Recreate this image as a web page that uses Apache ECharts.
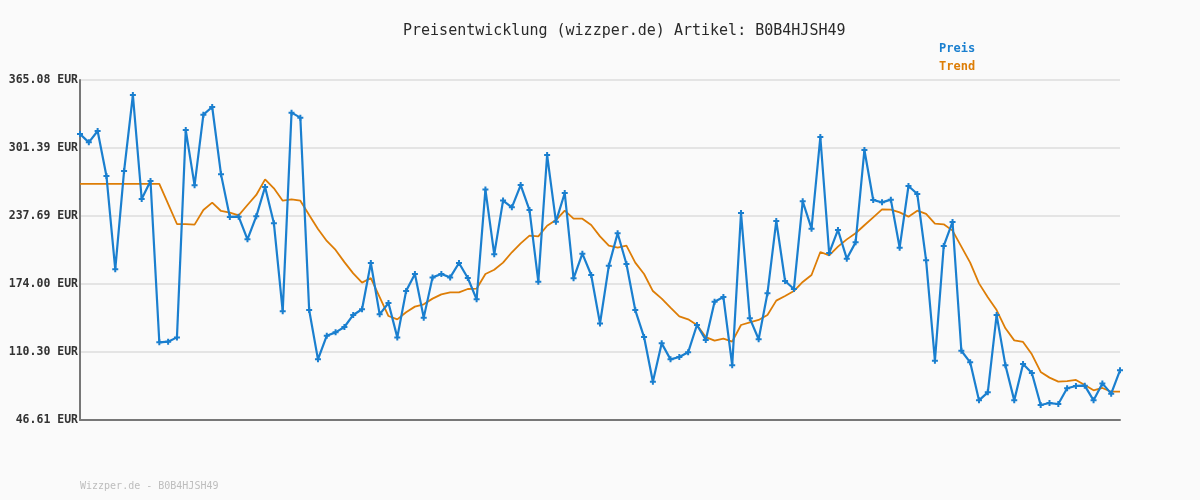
<!DOCTYPE html>
<html>
<head>
<meta charset="utf-8">
<script src="https://cdn.jsdelivr.net/npm/echarts@6/dist/echarts.min.js"></script>
<style>
html,body{margin:0;padding:0;background:#fafafa;}
#chart{width:1200px;height:500px;}
</style>
</head>
<body>
<div id="chart"></div>
<script>
const titleText = 'Preisentwicklung (wizzper.de) Artikel: B0B4HJSH49';
const footerText = 'Wizzper.de - B0B4HJSH49';
const yTickLabels = ['46.61 EUR','110.30 EUR','174.00 EUR','237.69 EUR','301.39 EUR','365.08 EUR'];
const yMin = 46.61;
const yMax = 365.08;

const preis = [314.5,306.7,317.3,275.2,187.7,279.8,351.0,253.6,270.5,119.4,120.0,124.0,318.2,266.4,332.6,339.8,276.7,236.8,237.1,215.8,237.4,264.9,230.8,148.4,334.5,329.8,149.6,103.4,125.6,128.7,133.7,
145.0,150.3,193.7,145.6,156.2,124.0,167.4,183.4,142.5,180.2,183.4,180.2,193.7,179.6,159.6,262.4,201.8,252.1,245.8,266.7,243.3,176.2,294.8,232.4,259.2,179.3,202.4,182.4,137.0,191.0,
221.5,192.7,149.6,124.3,82.5,118.4,103.4,105.6,110.0,135.6,121.5,157.4,161.8,97.8,240.5,141.8,122.2,165.3,233.0,176.8,169.3,251.4,225.8,311.7,203.0,224.6,197.7,213.0,299.5,
252.7,250.5,253.0,208.0,265.8,258.3,196.2,102.2,209.6,232.1,111.5,100.6,65.0,72.5,144.9,97.8,65.0,99.1,90.6,60.7,62.5,61.6,76.3,78.5,78.8,65.0,80.9,71.3,93.1];

const trend = [267.7,267.7,267.7,267.7,267.7,267.7,267.7,267.7,267.7,267.7,249.0,230.2,230.0,229.6,243.3,250.2,242.4,240.8,238.3,248.0,257.4,272.0,263.6,252.0,253.3,252.0,238.6,225.5,214.3,205.9,194.5,
184.0,175.3,179.6,161.8,144.0,140.9,147.5,152.8,155.0,160.3,164.3,166.2,166.2,169.3,169.6,183.4,187.4,194.0,203.7,212.1,219.3,218.6,228.6,233.9,242.7,235.2,235.2,229.3,218.6,209.9,
208.0,209.9,194.0,183.4,167.4,160.3,151.8,143.7,140.9,135.6,124.3,120.9,122.8,120.0,135.6,138.1,140.3,145.0,158.4,162.7,167.4,175.9,182.4,204.0,200.8,209.0,215.8,221.5,229.0,
236.4,243.9,243.6,241.1,237.1,242.7,239.6,230.5,229.9,224.0,209.0,194.0,174.6,161.5,149.6,132.5,121.2,119.7,108.1,91.6,86.3,82.5,83.1,84.1,79.4,74.4,76.6,73.1,73.1];

const categories = preis.map((_, i) => String(i + 1));

const MONO = '"DejaVu Sans Mono", "Liberation Mono", monospace';
const chart = echarts.init(document.getElementById('chart'), null, {renderer: 'canvas'});
chart.setOption({
  backgroundColor: '#fafafa',
  animation: false,
  title: {
    text: titleText,
    left: 398, top: 19,
    textStyle: {fontFamily: MONO, fontSize: 15, fontWeight: 'normal', color: '#2a2a2a'}
  },
  legend: {
    orient: 'vertical',
    left: 934, top: 38,
    itemGap: 6,
    itemWidth: 0, itemHeight: 0,
    icon: 'none',
    textStyle: {fontFamily: MONO, fontSize: 12, fontWeight: 'bold', padding: [0,0,0,-5]},
    data: [
      {name: 'Preis', textStyle: {color: '#1a7fcf'}},
      {name: 'Trend', textStyle: {color: '#dd7d06'}}
    ],
    selectedMode: false
  },
  graphic: [{
    type: 'text', left: 80, top: 481,
    style: {text: footerText, fontFamily: MONO, fontSize: 10, fill: '#bdbdbd'}
  }],
  grid: {left: 80, right: 80, top: 80, bottom: 80, containLabel: false},
  xAxis: {
    type: 'category',
    data: categories,
    boundaryGap: false,
    axisLine: {show: true, lineStyle: {color: '#777', width: 2}},
    axisTick: {show: false},
    axisLabel: {show: false},
    splitLine: {show: false}
  },
  yAxis: {
    type: 'value',
    min: yMin, max: yMax,
    interval: (yMax - yMin) / 5,
    axisLine: {show: true, lineStyle: {color: '#777', width: 2}},
    axisTick: {show: false},
    axisLabel: {
      fontFamily: MONO, fontSize: 11.5, fontWeight: 'bold', color: '#333', margin: 2,
      formatter: function (v, idx) { return yTickLabels[Math.round((v - yMin) / ((yMax - yMin) / 5))]; }
    },
    splitLine: {show: true, lineStyle: {color: '#e4e4e4', width: 2}}
  },
  series: [
    {
      name: 'Preis', type: 'line', data: preis,
      color: '#1a7fcf',
      lineStyle: {width: 2.2, color: '#1a7fcf'},
      symbol: 'path://M2,0H4V2H6V4H4V6H2V4H0V2H2Z',
      symbolSize: 6,
      showSymbol: true,
      showAllSymbol: true,
      itemStyle: {color: '#1a7fcf'},
      z: 3
    },
    {
      name: 'Trend', type: 'line', data: trend,
      color: '#dd7d06',
      lineStyle: {width: 1.8, color: '#dd7d06'},
      symbol: 'none',
      z: 2
    }
  ]
});
</script>
</body>
</html>
